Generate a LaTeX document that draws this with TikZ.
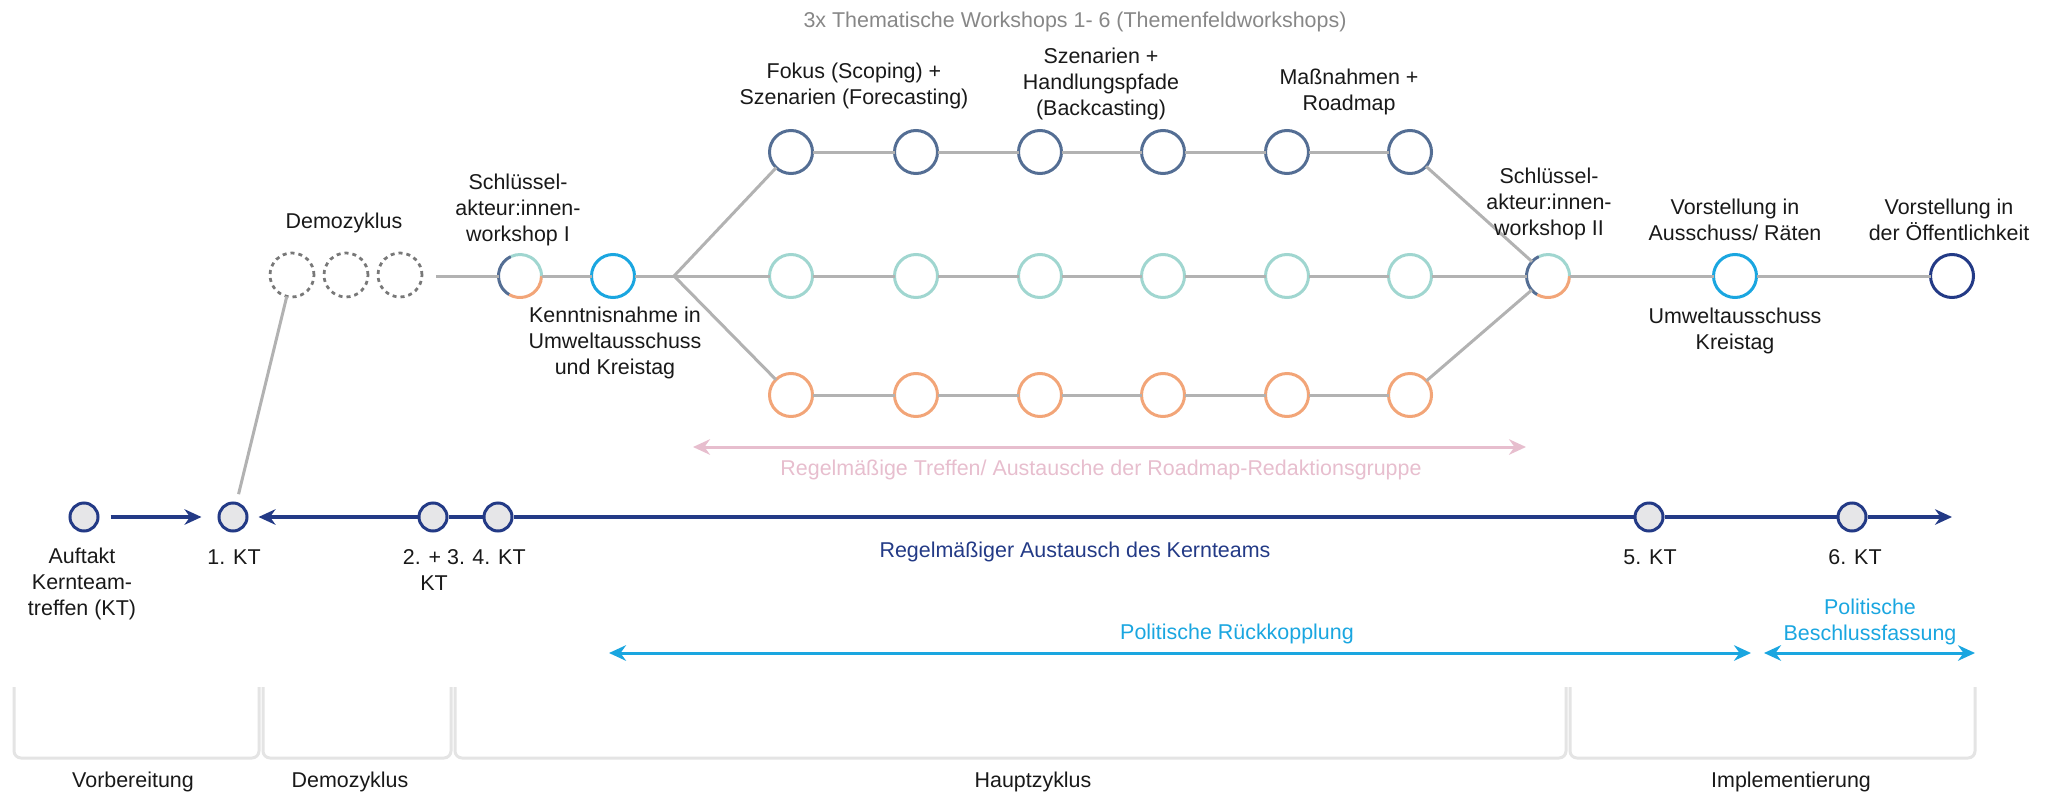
\documentclass[tikz,border=0pt]{standalone}
\usepackage{fontspec}
\setmainfont{Liberation Sans}
\usetikzlibrary{arrows.meta,positioning}

\definecolor{slate}{RGB}{84,110,148}
\definecolor{tealc}{RGB}{160,214,208}
\definecolor{orangec}{RGB}{242,165,120}
\definecolor{skyc}{RGB}{26,166,224}
\definecolor{navy}{RGB}{35,58,134}
\definecolor{ktfill}{RGB}{230,230,232}
\definecolor{linegray}{RGB}{178,178,178}
\definecolor{dashgray}{RGB}{120,120,120}
\definecolor{pinkc}{RGB}{231,190,206}
\definecolor{titlegray}{RGB}{135,135,135}
\definecolor{bracegray}{RGB}{228,228,228}

\tikzset{
  lbl/.style={font=\fontsize{12.2}{14.8}\selectfont, align=center, inner sep=0pt, text=black!90},
  ring/.style={circle, minimum size=8.6mm, inner sep=0pt, outer sep=0pt, line width=0.6mm},
  topring/.style={ring, draw=slate},
  midring/.style={ring, draw=tealc},
  lowring/.style={ring, draw=orangec},
  demoring/.style={ring, minimum size=8.8mm, draw=dashgray, line width=0.55mm, dash pattern=on 0.8mm off 0.8mm},
  ktdot/.style={circle, minimum size=5.6mm, inner sep=0pt, fill=ktfill, draw=navy, line width=0.6mm},
  link/.style={draw=linegray, line width=0.6mm},
  kern/.style={draw=navy, line width=0.7mm},
  headtip/.tip={Stealth[length=3.4mm,width=3.1mm]},
  phase/.style={draw=bracegray, line width=0.6mm, rounded corners=1.4mm}
}

\begin{document}
\begin{tikzpicture}[x=0.2mm,y=-0.2mm]
\useasboundingbox (0,0) rectangle (2051,792);

% Demozyklus und Schluesselakteur:innen I
\node[demoring] (d1) at (292,275) {};
\node[demoring] (d2) at (346,275) {};
\node[demoring] (d3) at (400,275) {};
\coordinate (dzend) at (436,276);
\node[ring] (sk1) at (520,276) {};
\node[ring, draw=skyc] (kn) at (613,276) {};
\coordinate (fork) at (674,276);

% drei Workshopreihen
\foreach \x [count=\i] in {791,916,1040,1163,1287,1410} {
  \node[topring] (t\i) at (\x,152) {};
  \node[midring] (m\i) at (\x,276) {};
  \node[lowring] (b\i) at (\x,395) {};
}

\node[ring] (sk2) at (1548,276) {};
\node[ring, draw=skyc] (vs) at (1735,276) {};
\node[ring, draw=navy] (vo) at (1952,276) {};

% mehrfarbige Kreise
\foreach \n in {sk1,sk2} {
  \draw[slate, line width=0.6mm] (\n.115) arc[start angle=115, end angle=240, radius=4.3mm];
  \draw[orangec, line width=0.6mm] (\n.240) arc[start angle=240, end angle=360, radius=4.3mm];
  \draw[tealc, line width=0.6mm] (\n.0) arc[start angle=0, end angle=115, radius=4.3mm];
}

% Verbindungen
\draw[link] (dzend) -- (sk1) -- (kn) -- (fork);
\draw[link] (fork) -- (t1);
\draw[link] (fork) -- (m1);
\draw[link] (fork) -- (b1);
\draw[link] (t1) -- (t2) -- (t3) -- (t4) -- (t5) -- (t6);
\draw[link] (m1) -- (m2) -- (m3) -- (m4) -- (m5) -- (m6);
\draw[link] (b1) -- (b2) -- (b3) -- (b4) -- (b5) -- (b6);
\draw[link] (t6) -- (sk2);
\draw[link] (m6) -- (sk2);
\draw[link] (b6) -- (sk2);
\draw[link] (sk2) -- (vs) -- (vo);

% Kernteam-Zeitstrahl
\node[ktdot] (kt0) at (84,517) {};
\node[ktdot] (kt1) at (233,517) {};
\node[ktdot] (kt2) at (433,517) {};
\node[ktdot] (kt4) at (498,517) {};
\node[ktdot] (kt5) at (1649,517) {};
\node[ktdot] (kt6) at (1852,517) {};
\coordinate (ktend) at (1952,517);
\draw[link, shorten >=1.6mm] (d1) -- (kt1);
\draw[kern, -{headtip}, shorten <=2.2mm, shorten >=3.2mm] (kt0) -- (kt1);
\draw[kern, {headtip}-, shorten <=2mm] (kt1) -- (kt2);
\draw[kern] (kt2) -- (kt4) -- (kt5) -- (kt6);
\draw[kern, -{headtip}] (kt6) -- (ktend);

% Pfeile
\coordinate (rgA) at (693,447);
\coordinate (rgB) at (1526,447);
\draw[pinkc, line width=0.6mm, {headtip}-{headtip}] (rgA) -- (rgB);
\coordinate (prA) at (609,653);
\coordinate (prB) at (1751,653);
\draw[skyc, line width=0.6mm, {headtip}-{headtip}] (prA) -- (prB);
\coordinate (pbA) at (1764,653);
\coordinate (pbB) at (1975,653);
\draw[skyc, line width=0.6mm, {headtip}-{headtip}] (pbA) -- (pbB);

% Phasen
\draw[phase] (14,687) -- (14,758) -- (259,758) -- (259,687);
\draw[phase] (263,687) -- (263,758) -- (451,758) -- (451,687);
\draw[phase] (455,687) -- (455,758) -- (1566,758) -- (1566,687);
\draw[phase] (1570,687) -- (1570,758) -- (1975,758) -- (1975,687);

% Texte
\node[lbl, text=titlegray] (title) at (1075,22) {3x Thematische Workshops 1- 6 (Themenfeldworkshops)};
\node[lbl] (lfokus) at (854,86) {Fokus (Scoping) +\\Szenarien (Forecasting)};
\node[lbl] (lszen) at (1101,84) {Szenarien +\\Handlungspfade\\(Backcasting)};
\node[lbl] (lmass) at (1349,92) {Maßnahmen +\\Roadmap};
\node[lbl] (ldemo) at (344,223) {Demozyklus};
\node[lbl] (lsk1) at (518,210) {Schlüssel-\\akteur:innen-\\workshop I};
\node[lbl] (lkn) at (615,343) {Kenntnisnahme in\\Umweltausschuss\\und Kreistag};
\node[lbl] (lsk2) at (1549,204) {Schlüssel-\\akteur:innen-\\workshop II};
\node[lbl] (lvs) at (1735,220) {Vorstellung in\\Ausschuss/ Räten};
\node[lbl] (lvsb) at (1735,331) {Umweltausschuss\\Kreistag};
\node[lbl] (lvo) at (1949,220) {Vorstellung in\\der Öffentlichkeit};
\node[lbl, text=pinkc] (lrg) at (1101,470) {Regelmäßige Treffen/ Austausche der Roadmap-Redaktionsgruppe};
\node[lbl] (lkt0) at (82,584) {Auftakt\\Kernteam-\\treffen (KT)};
\node[lbl] (lkt1) at (234,557) {1. KT};
\node[lbl] (lkt2) at (434,570) {2. + 3.\\KT};
\node[lbl] (lkt4) at (499,557) {4. KT};
\node[lbl] (lkt5) at (1650,557) {5. KT};
\node[lbl] (lkt6) at (1855,557) {6. KT};
\node[lbl, text=navy] (lkern) at (1075,552) {Regelmäßiger Austausch des Kernteams};
\node[lbl, text=skyc] (lpr) at (1237,634) {Politische Rückkopplung};
\node[lbl, text=skyc] (lpb) at (1870,622) {Politische\\Beschlussfassung};
\node[lbl] (pvor) at (133,782) {Vorbereitung};
\node[lbl] (pdemo) at (350,782) {Demozyklus};
\node[lbl] (phaupt) at (1033,782) {Hauptzyklus};
\node[lbl] (pimpl) at (1791,782) {Implementierung};
\end{tikzpicture}
\end{document}
